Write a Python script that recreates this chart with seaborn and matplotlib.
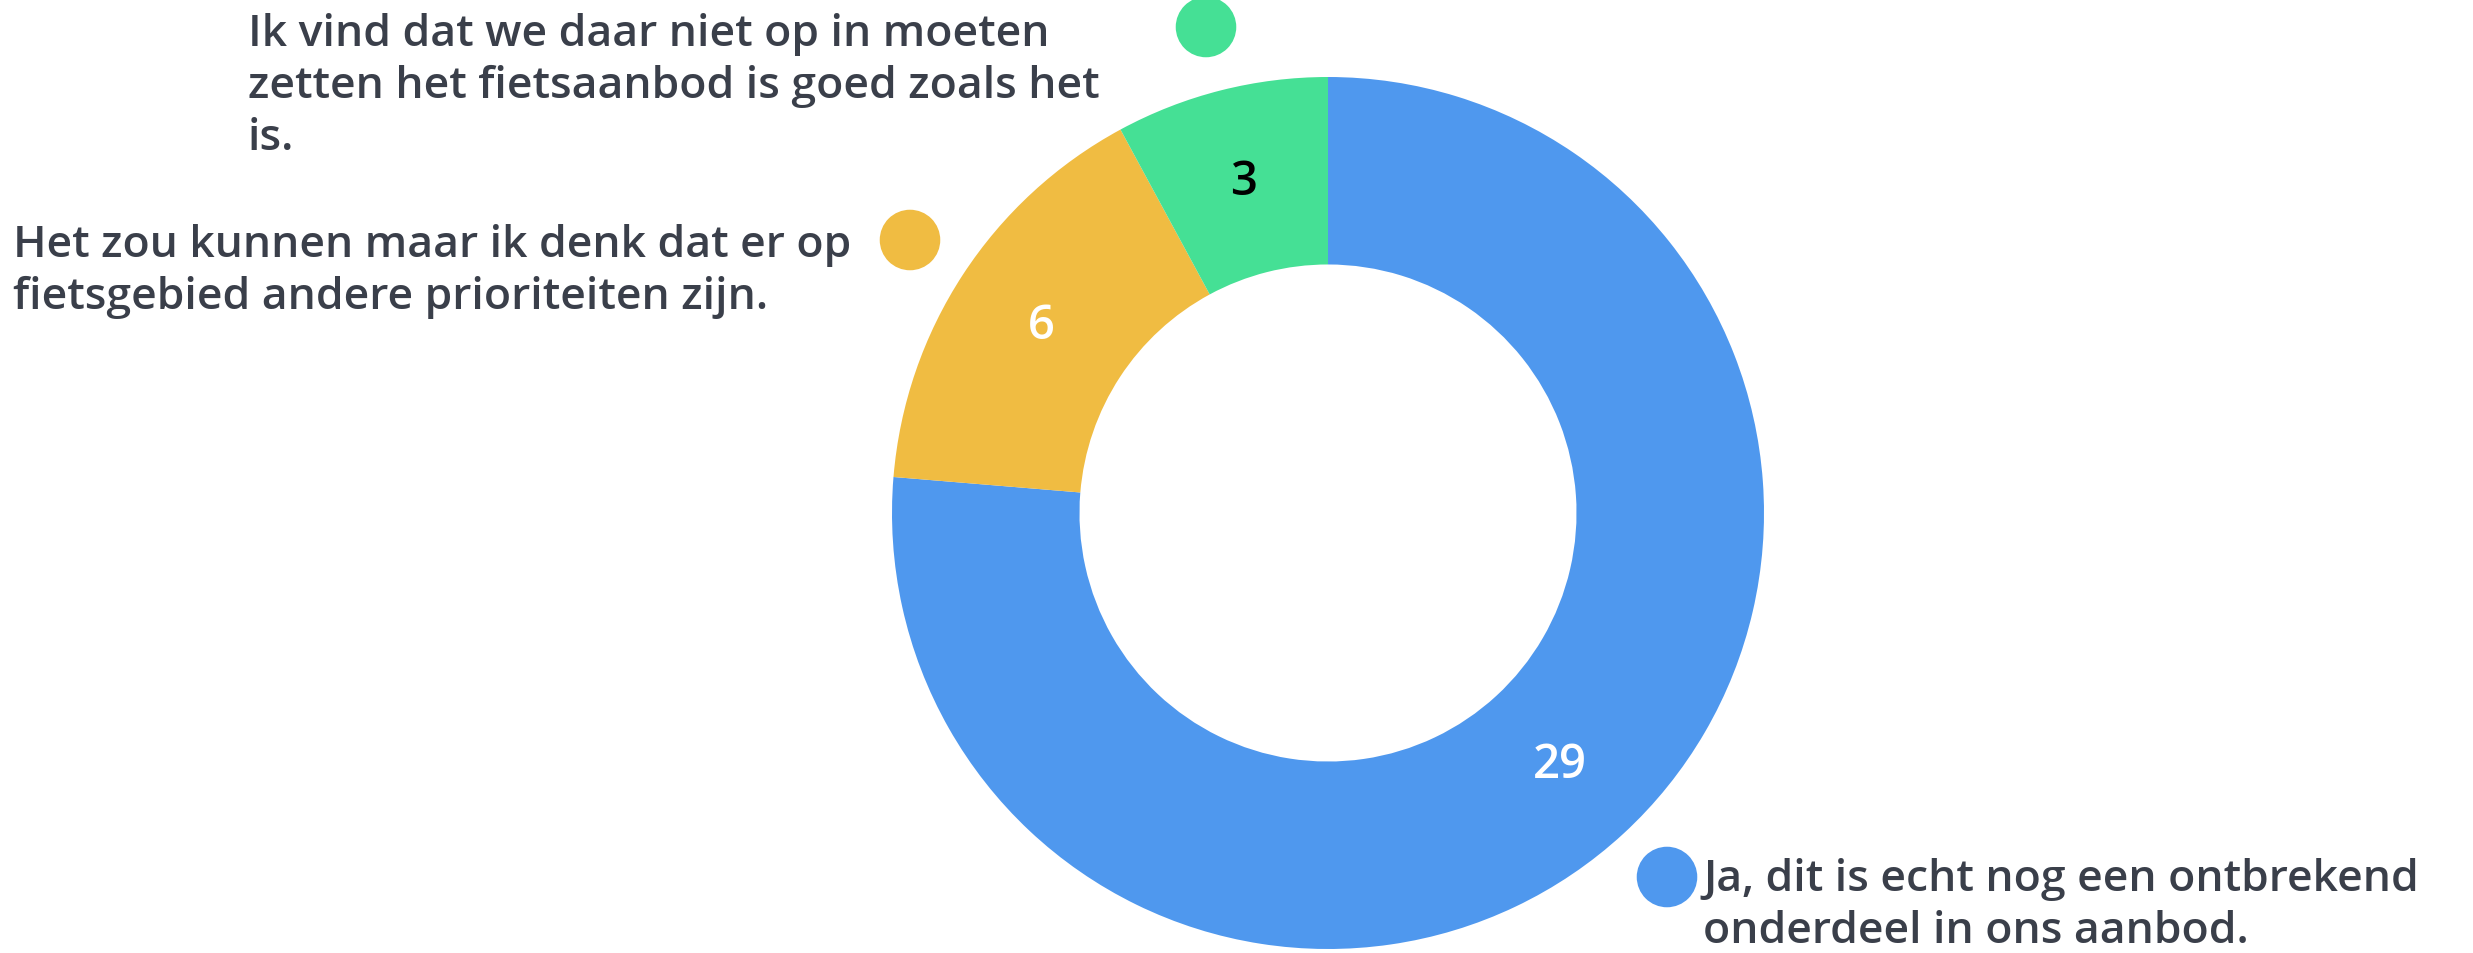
import matplotlib
matplotlib.use('Agg')
import matplotlib.pyplot as plt
import seaborn as sns

# data
categories = [
    'Ja, dit is echt nog een ontbrekend\nonderdeel in ons aanbod.',
    'Het zou kunnen maar ik denk dat er op\nfietsgebied andere prioriteiten zijn.',
    'Ik vind dat we daar niet op in moeten\nzetten het fietsaanbod is goed zoals het\nis.',
]
values = [29, 6, 3]
colors = ['#4f98ee', '#f0bc42', '#45e095']
value_colors = ['white', 'white', 'black']

W, H = 2473, 954
sns.set_theme(style='white')
plt.rcParams['font.family'] = ['Open Sans', 'DejaVu Sans']

fig = plt.figure(figsize=(W / 100, H / 100), dpi=100)
fig.patch.set_facecolor('white')

# donut, centre (1328, 514) px, radius 436 px
cx, cy, R = 1328, 514, 436
ax = fig.add_axes([(cx - R) / W, (H - cy - R) / H, 2 * R / W, 2 * R / H])
wedges, _, autotexts = ax.pie(
    values, colors=colors, startangle=90, counterclock=False,
    radius=1, wedgeprops=dict(width=0.43, edgecolor='none'),
    autopct=lambda p: f'{round(p * sum(values) / 100):d}',
    pctdistance=0.785, textprops=dict(fontsize=34, fontweight='semibold'))
for t, c in zip(autotexts, value_colors):
    t.set_color(c)
ax.set_xlim(-1, 1)
ax.set_ylim(-1, 1)
ax.set_aspect('equal')
ax.axis('off')

# labels with coloured dots, overlay in pixel coordinates
ov = fig.add_axes([0, 0, 1, 1])
ov.set_xlim(0, W)
ov.set_ylim(H, 0)
ov.axis('off')
ov.patch.set_alpha(0)

dot_pos = [(1667, 878), (910, 241), (1206, 28)]
text_pos = [(1703, 878), (13, 244), (248, 33)]
for cat, col, (dx, dy), (tx, ty) in zip(categories, colors, dot_pos, text_pos):
    ov.scatter([dx], [dy], s=1900, color=col, edgecolor='none')
    ov.text(tx, ty - 20, cat, fontsize=32, fontweight='semibold', color='#3a3f4a',
            ha='left', va='top', linespacing=1.27)

fig.savefig('out.png', dpi=100, facecolor='white')
